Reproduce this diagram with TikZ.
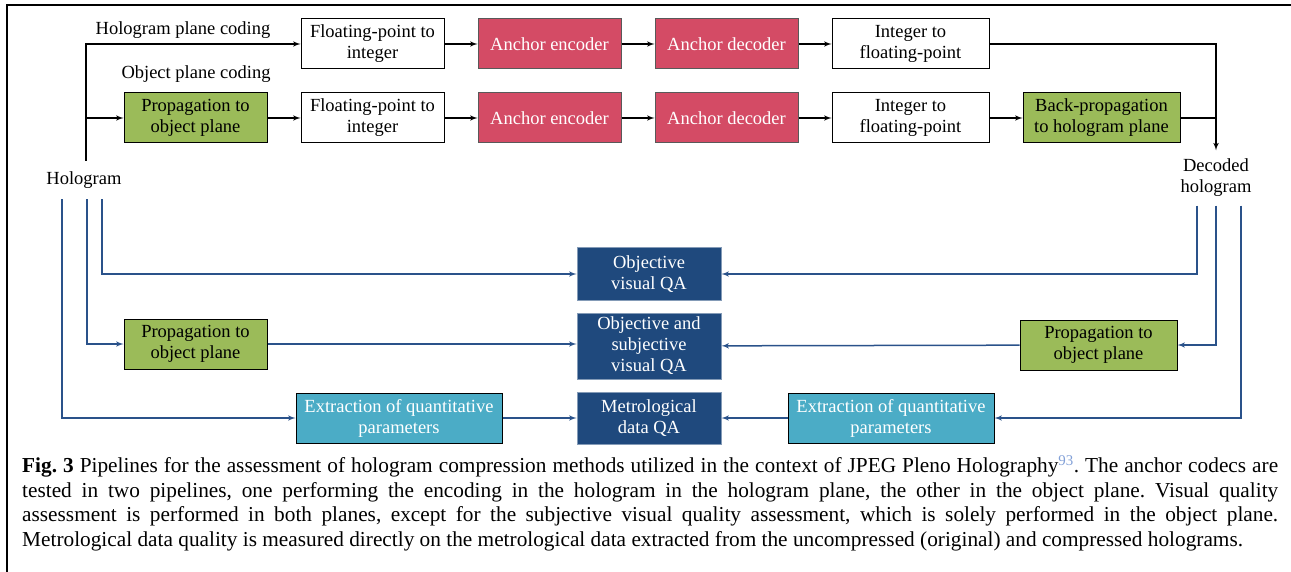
\documentclass[tikz,border=0pt]{standalone}
\usepackage{fontspec}
\setmainfont{Liberation Serif}
\usepackage{xcolor}
\usepackage{tikz}
\usetikzlibrary{positioning}
\usetikzlibrary{arrows}
\definecolor{anchorred}{RGB}{212,75,101}
\definecolor{propgreen}{RGB}{155,187,89}
\definecolor{qablue}{RGB}{31,73,125}
\definecolor{extcyan}{RGB}{75,172,198}
\definecolor{linkblue}{RGB}{42,82,138}
\definecolor{citeblue}{RGB}{130,160,215}
\tolerance=9999
\hbadness=10000
\frenchspacing

\begin{document}
\begin{tikzpicture}[x=1pt,y=-1pt,>=latex',node distance=33pt,
                    every node/.style={font=\fontsize{18.5}{21}\selectfont},
                    box/.style={draw,line width=1pt,minimum width=143pt,minimum height=50pt,inner sep=0pt,align=center},
                    plain/.style={box,fill=white},
                    codec/.style={box,draw=black!65,fill=anchorred,text=white},
                    prop/.style={box,fill=propgreen},
                    qa/.style={box,draw=qablue!55,fill=qablue,text=white,minimum width=144pt},
                    extract/.style={box,fill=extcyan,text=white,minimum width=206pt},
                    flow/.style={line width=1.5pt,->},
                    blueflow/.style={line width=1.5pt,draw=linkblue,->}]
\useasboundingbox (0,0) rectangle (1291,572);
\draw[line width=1.8pt] (7,572) -- (7,5) -- (1291,5);
% coding pipelines
\node[prop] (prop1) at (195.5,118) {Propagation to\\object plane};
\node[plain,right=of prop1] (fp2) {Floating-point to\\integer};
\node[codec,right=of fp2] (enc2) {Anchor encoder};
\node[codec,right=of enc2] (dec2) {Anchor decoder};
\node[plain,right=of dec2,minimum width=157pt] (int2) {Integer to\\floating-point};
\node[prop,right=of int2,minimum width=157pt] (back) {Back-propagation\\to hologram plane};
\node[plain,above=23pt of fp2] (fp1) {Floating-point to\\integer};
\node[codec,right=of fp1] (enc1) {Anchor encoder};
\node[codec,right=of enc1] (dec1) {Anchor decoder};
\node[plain,right=of dec1,minimum width=157pt] (int1) {Integer to\\floating-point};
\node (hpc) at (183,30) {Hologram plane coding};
\node (opc) at (196,74) {Object plane coding};
\node[minimum height=38pt,inner sep=0pt] (holo) at (84,180) {Hologram};
\node[align=center,minimum height=55pt,inner sep=0pt] (dech) at (1216,178) {Decoded\\hologram};
\draw[flow] ([xshift=2pt]holo.north) |- (fp1);
\draw[flow] ([xshift=2pt]holo.north) |- (prop1);
\path[flow] (fp1) edge (enc1)
            (enc1) edge (dec1)
            (dec1) edge (int1)
            (prop1) edge (fp2)
            (fp2) edge (enc2)
            (enc2) edge (dec2)
            (dec2) edge (int2)
            (int2) edge (back);
\draw[flow] (int1) -| (dech.north);
\draw[line width=1.5pt] (back) -- (back -| dech.north);
% quality assessment
\node[qa,minimum height=52pt] (ovqa) at (649,274) {Objective\\visual QA};
\node[qa,minimum height=66pt,below=12pt of ovqa] (osqa) {Objective and\\subjective\\visual QA};
\node[qa,minimum height=52pt,below=12pt of osqa] (mqa) {Metrological\\data QA};
\node[prop] (prop3) at (195.5,344) {Propagation to\\object plane};
\node[prop,minimum width=157pt] (prop4) at (1098.5,345) {Propagation to\\object plane};
\node[extract,left=74pt of mqa] (ext1) {Extraction of quantitative\\parameters};
\node[extract,right=66pt of mqa] (ext2) {Extraction of quantitative\\parameters};
\draw[blueflow] ([xshift=18pt]holo.south) |- (ovqa);
\draw[blueflow] ([xshift=3pt]holo.south) |- (prop3);
\draw[blueflow] ([xshift=-22pt]holo.south) |- (ext1);
\draw[blueflow] (prop3) -- (prop3 -| osqa.west);
\draw[blueflow] (ext1) -- (mqa);
\draw[blueflow] ([xshift=-19pt]dech.south) |- (ovqa);
\draw[blueflow] (dech.south) |- (prop4);
\draw[blueflow] ([xshift=25pt]dech.south) |- (ext2);
\draw[blueflow] (prop4) -- (osqa);
\draw[blueflow] (ext2) -- (mqa);
% caption
\node[anchor=north west,text width=1256pt,align=justify,inner sep=0pt,
      font=\fontsize{21.3}{24.5}\selectfont] (cap) at (22,455)
  {\textbf{Fig.\ 3} Pipelines for the assessment of hologram compression methods utilized in the context of JPEG Pleno Holography\textsuperscript{\color{citeblue}93}. The anchor codecs are\linebreak
   tested in two pipelines, one performing the encoding in the hologram in the hologram plane, the other in the object plane. Visual quality\linebreak
   assessment is performed in both planes, except for the subjective visual quality assessment, which is solely performed in the object plane.\linebreak
   Metrological data quality is measured directly on the metrological data extracted from the uncompressed (original) and compressed holograms.};
\end{tikzpicture}
\end{document}
